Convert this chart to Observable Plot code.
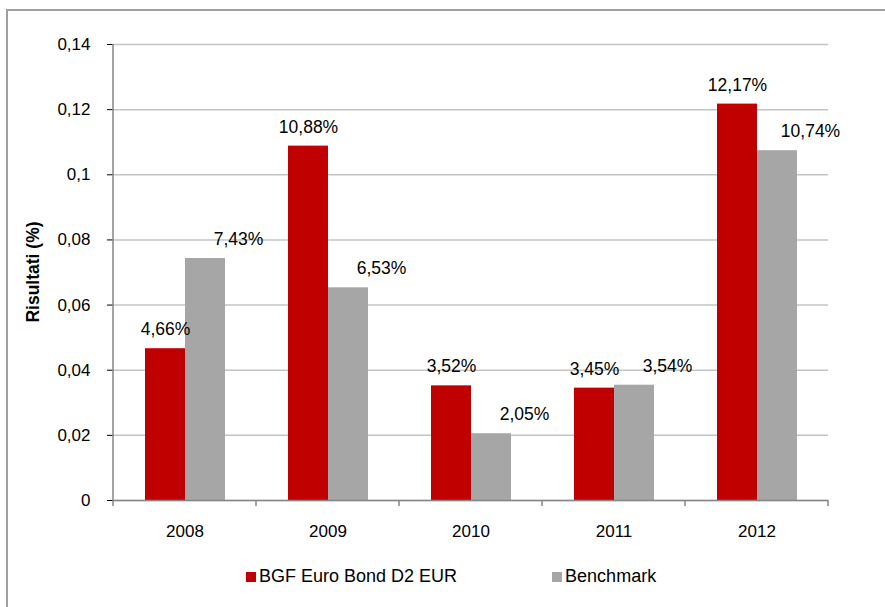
<!DOCTYPE html>
<html>
<head>
<meta charset="utf-8">
<script src="https://cdn.jsdelivr.net/npm/d3@7"></script>
<script src="https://cdn.jsdelivr.net/npm/@observablehq/plot@0.6"></script>
<style>
  html, body { margin: 0; padding: 0; background: #fff; }
  #wrap { position: relative; width: 885px; height: 607px; overflow: hidden; background: #fff;
          font-family: "Liberation Sans", Arial, sans-serif; }
  #border { position: absolute; left: 6px; top: 9px; width: 900px; height: 700px;
            border-left: 2px solid #a0a0a0; border-top: 2px solid #a0a0a0; box-sizing: border-box; }
  #chart { position: absolute; left: 0; top: 0; }
  #legend { position: absolute; top: 566px; left: 246px; display: flex; align-items: center;
            font-size: 18px; color: #000; white-space: nowrap; }
  #legend .item { display: flex; align-items: center; }
  #legend .sw { width: 10px; height: 10px; margin-right: 3px; }
  g[aria-label="y-axis tick"] { stroke: #868686; }
</style>
</head>
<body>
<div id="wrap">
  <div id="border"></div>
  <div id="chart"></div>
  <div id="legend"></div>
</div>
<script>
const years = ["2008", "2009", "2010", "2011", "2012"];
const seriesNames = ["BGF Euro Bond D2 EUR", "Benchmark"];
const fundValues = [0.0466, 0.1088, 0.0352, 0.0345, 0.1217];
const benchValues = [0.0743, 0.0653, 0.0205, 0.0354, 0.1074];
const fundLabels = ["4,66%", "10,88%", "3,52%", "3,45%", "12,17%"];
const benchLabels = ["7,43%", "6,53%", "2,05%", "3,54%", "10,74%"];
const yTicks = [0, 0.02, 0.04, 0.06, 0.08, 0.1, 0.12, 0.14];
const yTickLabels = ["0", "0,02", "0,04", "0,06", "0,08", "0,1", "0,12", "0,14"];
const yTitle = "Risultati (%)";
const colors = ["#C00000", "#A6A6A6"];

const rows = [];
years.forEach((yr, i) => {
  rows.push({year: yr, series: seriesNames[0], value: fundValues[i], label: fundLabels[i]});
  rows.push({year: yr, series: seriesNames[1], value: benchValues[i], label: benchLabels[i]});
});

const chart = Plot.plot({
  width: 885,
  height: 545,
  marginLeft: 111,
  marginRight: 55,
  marginTop: 44,
  marginBottom: 45,
  style: {fontFamily: "'Liberation Sans', Arial, sans-serif", fontSize: "17px", color: "#000", background: "transparent", overflow: "visible"},
  fx: {domain: years, padding: 0, label: null, axis: "bottom", tickSize: 0, tickPadding: 24},
  x: {domain: seriesNames, axis: null, paddingInner: 0, paddingOuter: 0.754},
  y: {domain: [0, 0.14], ticks: yTicks, tickFormat: d => yTickLabels[yTicks.indexOf(d)], tickSize: 6, tickPadding: 17, label: null},
  color: {domain: seriesNames, range: colors},
  marks: [
    Plot.ruleY(yTicks, {stroke: "#c4c4c4", strokeWidth: 1.5}),
    Plot.barY(rows, {fx: "year", x: "series", y: "value", fill: "series"}),
    Plot.ruleY([0], {stroke: "#868686", strokeWidth: 1.5}),
    Plot.text(rows.filter(d => d.series === seriesNames[0]), {fx: "year", x: "series", y: "value", text: "label", dy: -19, fontSize: 17.5, fill: "#000"}),
    Plot.text(rows.filter(d => d.series === seriesNames[1]), {fx: "year", x: "series", y: "value", text: "label", dy: -19, dx: 33, fontSize: 17.5, fill: "#000"})
  ]
});

document.getElementById("chart").appendChild(chart);

// axis line, boundary ticks and y title, positioned from the chart's own scales
try {
  const svg = d3.select(chart);
  const ys = chart.scale("y");
  const fxs = chart.scale("fx");
  const y0 = ys.apply(0), yTop = ys.apply(yTicks[yTicks.length - 1]);
  const xLeft = fxs.apply(years[0]);
  const bw = fxs.bandwidth;
  const edges = years.map(y => fxs.apply(y)).concat([fxs.apply(years[years.length - 1]) + bw]);
  const g = svg.append("g");
  g.append("line").attr("x1", xLeft).attr("x2", xLeft).attr("y1", yTop).attr("y2", y0)
    .attr("stroke", "#868686").attr("stroke-width", 1.5);
  edges.forEach(x => {
    g.append("line").attr("x1", x).attr("x2", x).attr("y1", y0).attr("y2", y0 + 6)
      .attr("stroke", "#868686").attr("stroke-width", 1.5);
  });
  g.append("text")
    .attr("transform", `translate(${xLeft - 80},${(y0 + yTop) / 2}) rotate(-90)`)
    .attr("text-anchor", "middle").attr("dy", "0.35em")
    .attr("font-weight", "bold").attr("font-size", 17.5).attr("fill", "#000")
    .text(yTitle);
} catch (e) { console.error(e); }

// legend
const legend = document.getElementById("legend");
seriesNames.forEach((name, i) => {
  const item = document.createElement("div");
  item.className = "item";
  if (i > 0) item.style.marginLeft = "95px";
  const sw = document.createElement("div");
  sw.className = "sw";
  sw.style.background = colors[i];
  const t = document.createElement("span");
  t.textContent = name;
  item.appendChild(sw);
  item.appendChild(t);
  legend.appendChild(item);
});
</script>
</body>
</html>
